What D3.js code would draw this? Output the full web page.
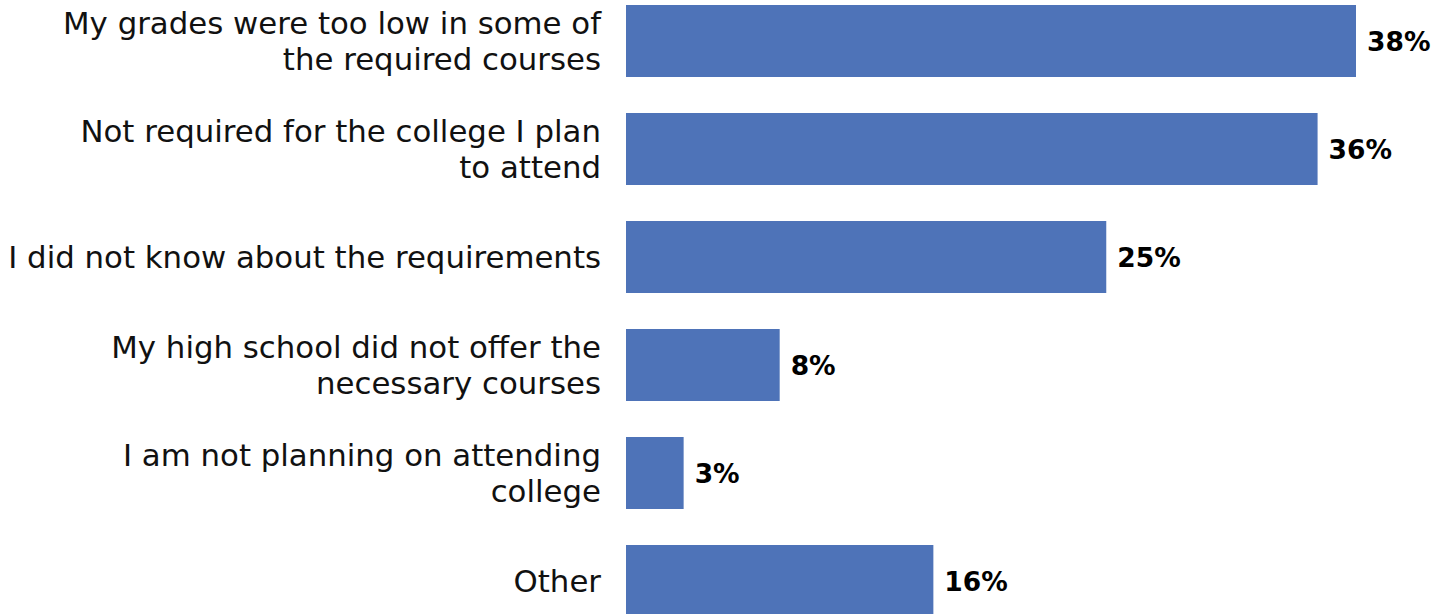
<!DOCTYPE html>
<html>
<head>
<meta charset="utf-8">
<script src="https://cdn.jsdelivr.net/npm/d3@7"></script>
<style>
  html, body { margin: 0; padding: 0; background: #ffffff; }
  svg { display: block; }
</style>
</head>
<body>
<svg id="chart" width="1448" height="614"></svg>
<script>
// Reasons given, each split into the lines it is printed on
const categories = [
  ["My grades were too low in some of", "the required courses"],
  ["Not required for the college I plan", "to attend"],
  ["I did not know about the requirements"],
  ["My high school did not offer the", "necessary courses"],
  ["I am not planning on attending", "college"],
  ["Other"]
];
const values = [38, 36, 25, 8, 3, 16];
const valueLabels = ["38%", "36%", "25%", "8%", "3%", "16%"];

const barColor = "#4E73B8";
const labelFont = "'DejaVu Sans', sans-serif";

const svg = d3.select("#chart");

const keys = categories.map((c, i) => String(i));

const y = d3.scaleBand()
  .domain(keys)
  .range([-13, 635])
  .paddingInner(1 / 3)
  .paddingOuter(1 / 6);

const x = d3.scaleLinear()
  .domain([0, 38])
  .range([626, 1356]);

// bars
svg.append("g")
  .selectAll("rect")
  .data(values)
  .join("rect")
  .attr("x", x(0))
  .attr("y", (d, i) => y(keys[i]))
  .attr("width", d => x(d) - x(0))
  .attr("height", y.bandwidth())
  .attr("fill", barColor);

// category labels, right aligned left of the bars
const labelG = svg.append("g");
let labelSize = 32;
// size the label font so the longest single line spans the label column
const probe = labelG.append("text")
  .attr("font-family", labelFont)
  .attr("font-size", labelSize)
  .text("I did not know about the requirements");
const probeW = probe.node().getComputedTextLength();
probe.remove();
labelSize = labelSize * 593 / probeW;
const lineGap = 36;

categories.forEach((lines, i) => {
  const cy = y(keys[i]) + y.bandwidth() / 2;
  const t = labelG.append("text")
    .attr("font-family", labelFont)
    .attr("font-size", labelSize)
    .attr("fill", "#111")
    .attr("text-anchor", "end");
  const first = cy - (lines.length - 1) * lineGap / 2;
  lines.forEach((ln, k) => {
    t.append("tspan")
      .attr("x", 601)
      .attr("y", first + k * lineGap)
      .attr("dy", "0.36em")
      .text(ln);
  });
});

// value labels at the bar ends
svg.append("g")
  .selectAll("text")
  .data(values)
  .join("text")
  .attr("x", d => x(d) + 11)
  .attr("y", (d, i) => y(keys[i]) + y.bandwidth() / 2)
  .attr("dy", "0.36em")
  .attr("font-family", labelFont)
  .attr("font-weight", "bold")
  .attr("font-size", 26.5)
  .attr("fill", "#000")
  .text((d, i) => valueLabels[i]);
</script>
</body>
</html>
